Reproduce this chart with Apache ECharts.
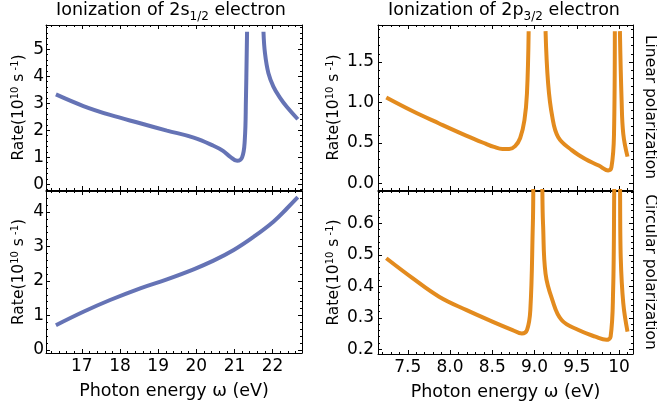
<!DOCTYPE html>
<html>
<head>
<meta charset="utf-8">
<script src="https://cdn.jsdelivr.net/npm/echarts@6/dist/echarts.min.js"></script>
<style>
html, body { margin: 0; padding: 0; background: #fff; }
#main { width: 657px; height: 407px; }
</style>
</head>
<body>
<div id="main"></div>
<script>
// 2s1/2, linear polarization
var sLinX = [16.32, 17.04, 17.74, 18.53, 19.23, 19.93, 20.45, 20.7, 20.89, 21.07, 21.2, 21.27, 21.3, 21.33, 21.55, 21.76, 21.8, 21.89, 22.02, 22.2, 22.37, 22.66];
var sLinY = [3.33, 2.9, 2.57, 2.26, 1.99, 1.73, 1.43, 1.24, 1.02, 0.87, 1.0, 1.64, 3.12, 5.65, null, 5.65, 4.85, 4.11, 3.62, 3.19, 2.87, 2.41];
// 2s1/2, circular polarization
var sCirX = [16.32, 17.04, 17.74, 18.53, 19.23, 19.93, 20.45, 20.98, 21.5, 22.02, 22.38, 22.66];
var sCirY = [0.72, 1.11, 1.45, 1.79, 2.05, 2.34, 2.59, 2.9, 3.28, 3.72, 4.11, 4.43];
// 2p3/2, linear polarization
var pLinX = [7.245, 7.56, 7.87, 8.19, 8.42, 8.52, 8.62, 8.7, 8.77, 8.83, 8.88, 8.91, 8.93, 9.03, 9.13, 9.16, 9.21, 9.28, 9.44, 9.6, 9.76, 9.87, 9.91, 9.94, 9.95, 9.98, 10.01, 10.03, 10.05, 10.1];
var pLinY = [1.06, 0.89, 0.74, 0.59, 0.49, 0.45, 0.425, 0.425, 0.46, 0.56, 0.78, 1.11, 1.88, null, 1.88, 1.24, 0.82, 0.57, 0.41, 0.3, 0.22, 0.16, 0.2, 0.6, 1.88, null, 1.88, 1.03, 0.61, 0.33];
// 2p3/2, circular polarization
var pCirX = [7.245, 7.56, 7.87, 8.19, 8.5, 8.74, 8.85, 8.91, 8.95, 8.98, 9.0, 9.07, 9.1, 9.13, 9.21, 9.32, 9.52, 9.72, 9.85, 9.9, 9.93, 9.96, 10.0, 10.02, 10.05, 10.1];
var pCirY = [0.489, 0.425, 0.367, 0.325, 0.288, 0.261, 0.25, 0.261, 0.325, 0.6, 0.8, 0.8, 0.6, 0.44, 0.357, 0.293, 0.261, 0.24, 0.23, 0.24, 0.39, 0.8, 0.8, 0.49, 0.346, 0.256];

// tick positions
var sXTicks = [17, 18, 19, 20, 21, 22];
var pXTicks = [7.5, 8.0, 8.5, 9.0, 9.5, 10];
var sLinYTicks = [0, 1, 2, 3, 4, 5];
var sCirYTicks = [0, 1, 2, 3, 4];
var pLinYTicks = [0, 0.5, 1.0, 1.5];
var pCirYTicks = [0.2, 0.3, 0.4, 0.5, 0.6];

var blue = '#6573b5';
var orange = '#e38b1e';
var font = 'DejaVu Sans';

function zip(xs, ys){
	var out = [];
	for(var i = 0; i < xs.length; i++){
		out.push([xs[i], ys[i]]);
	}
	return out;
}
// minor tick positions between from and to, skipping majors
function minors(from, to, step, majors){
	var out = [];
	var n = Math.round((to - from) / step);
	for(var i = 0; i <= n; i++){
		var v = Math.round((from + i * step) * 1000) / 1000;
		var isMajor = false;
		for(var j = 0; j < majors.length; j++){
			if(Math.abs(majors[j] - v) < 1e-6) isMajor = true;
		}
		if(!isMajor) out.push(v);
	}
	return out;
}

var frameLine = {show: true, onZero: false, lineStyle: {color: '#000', width: 1}};
function tickAxis(pos, gi, min, max, vals, len, line){
	return {
		type: 'value', gridIndex: gi, position: pos, min: min, max: max,
		axisLine: line ? frameLine : {show: false, onZero: false},
		axisTick: {show: true, inside: true, length: len, customValues: vals, lineStyle: {color: '#000', width: 1}},
		axisLabel: {show: false},
		splitLine: {show: false}
	};
}

var grids = [];
var xAxes = [];
var yAxes = [];
var series = [];

function panel(p){
	var gi = grids.length;
	grids.push({left: p.left, top: p.top, width: p.width, height: p.height});
	var xMain = tickAxis('bottom', gi, p.xMin, p.xMax, p.xTicks, 4, true);
	if(p.xLabels){
		xMain.axisLabel = {show: true, customValues: p.xTicks, margin: 5, color: '#000', fontFamily: font, fontSize: 17, formatter: p.xFmt};
		xMain.name = 'Photon energy ω (eV)';
		xMain.nameLocation = 'middle';
		xMain.nameGap = 29;
		xMain.nameTextStyle = {color: '#000', fontFamily: font, fontSize: 17.5};
	}
	var xi = xAxes.length;
	xAxes.push(xMain);
	xAxes.push(tickAxis('bottom', gi, p.xMin, p.xMax, p.xMinor, 2, false));
	xAxes.push(tickAxis('top', gi, p.xMin, p.xMax, p.xTicks, 4, true));
	xAxes.push(tickAxis('top', gi, p.xMin, p.xMax, p.xMinor, 2, false));

	var yMain = tickAxis('left', gi, p.yMin, p.yMax, p.yTicks, 4, true);
	yMain.axisLabel = {show: true, customValues: p.yTicks, margin: p.yMargin, color: '#000', fontFamily: font, fontSize: 17, formatter: p.yFmt};
	yMain.name = '{n|Rate(10}{sup|10}{n| s}{sup| -1}{n|)}';
	yMain.nameLocation = 'middle';
	yMain.nameGap = p.nameGap;
	yMain.nameTextStyle = {
		color: '#000', fontFamily: font, fontSize: 15.5,
		rich: {
			n: {fontFamily: font, fontSize: 15.5, color: '#000', verticalAlign: 'bottom'},
			sup: {fontFamily: font, fontSize: 10, color: '#000', verticalAlign: 'bottom', padding: [0, 0, 7, 0]}
		}
	};
	var yi = yAxes.length;
	yAxes.push(yMain);
	yAxes.push(tickAxis('left', gi, p.yMin, p.yMax, p.yMinor, 2, false));
	yAxes.push(tickAxis('right', gi, p.yMin, p.yMax, p.yTicks, 4, true));
	yAxes.push(tickAxis('right', gi, p.yMin, p.yMax, p.yMinor, 2, false));

	series.push({
		type: 'line', xAxisIndex: xi, yAxisIndex: yi,
		data: p.data, showSymbol: false, smooth: 0.4,
		connectNulls: false, clip: true,
		lineStyle: {color: p.color, width: 4}, itemStyle: {color: p.color},
		animation: false
	});
}

function fmt1(v){ return v.toFixed(1); }
function fmtX(v){ return v === 10 ? '10' : v.toFixed(1); }
function fmt0(v){ return String(v); }

panel({left: 46, top: 25, width: 256, height: 165, xMin: 16.06, xMax: 22.77, xTicks: sXTicks,
	xMinor: minors(16.2, 22.6, 0.2, sXTicks), xLabels: false,
	yMin: -0.21, yMax: 5.9, yTicks: sLinYTicks, yMinor: minors(-0.2, 5.8, 0.2, sLinYTicks),
	yFmt: fmt0, yMargin: 2, nameGap: 19, data: zip(sLinX, sLinY), color: blue});
panel({left: 46, top: 191, width: 256, height: 162, xMin: 16.06, xMax: 22.77, xTicks: sXTicks,
	xMinor: minors(16.2, 22.6, 0.2, sXTicks), xLabels: true, xFmt: fmt0,
	yMin: -0.087, yMax: 4.61, yTicks: sCirYTicks, yMinor: minors(0, 4.6, 0.2, sCirYTicks),
	yFmt: fmt0, yMargin: 2, nameGap: 19, data: zip(sCirX, sCirY), color: blue});
panel({left: 378, top: 25, width: 255, height: 165, xMin: 7.147, xMax: 10.165, xTicks: pXTicks,
	xMinor: minors(7.2, 10.1, 0.1, pXTicks), xLabels: false,
	yMin: -0.082, yMax: 1.956, yTicks: pLinYTicks, yMinor: minors(0, 1.9, 0.1, pLinYTicks),
	yFmt: fmt1, yMargin: 4, nameGap: 36, data: zip(pLinX, pLinY), color: orange});
panel({left: 378, top: 191, width: 255, height: 163, xMin: 7.147, xMax: 10.165, xTicks: pXTicks,
	xMinor: minors(7.2, 10.1, 0.1, pXTicks), xLabels: true, xFmt: fmtX,
	yMin: 0.185, yMax: 0.7025, yTicks: pCirYTicks, yMinor: minors(0.2, 0.7, 0.02, pCirYTicks),
	yFmt: fmt1, yMargin: 4, nameGap: 36, data: zip(pCirX, pCirY), color: orange});

var titleRich = {
	n: {fontFamily: font, fontSize: 17.5, fill: '#000', verticalAlign: 'bottom', padding: [0, 0, 4, 0]},
	sub: {fontFamily: font, fontSize: 12, fill: '#000', verticalAlign: 'bottom'}
};

var chart = echarts.init(document.getElementById('main'));
chart.setOption({
	animation: false,
	backgroundColor: '#fff',
	grid: grids,
	xAxis: xAxes,
	yAxis: yAxes,
	series: series,
	graphic: [
		{type: 'text', x: 171, y: 12, style: {text: '{n|Ionization of 2s}{sub|1/2}{n| electron}', rich: titleRich, align: 'center', verticalAlign: 'middle', fill: '#000'}},
		{type: 'text', x: 504, y: 12, style: {text: '{n|Ionization of 2p}{sub|3/2}{n| electron}', rich: titleRich, align: 'center', verticalAlign: 'middle', fill: '#000'}},
		{type: 'text', x: 650, y: 107, rotation: -Math.PI / 2, style: {text: 'Linear polarization', font: '15.5px "DejaVu Sans"', align: 'center', verticalAlign: 'middle', fill: '#000'}},
		{type: 'text', x: 650, y: 272, rotation: -Math.PI / 2, style: {text: 'Circular polarization', font: '15.5px "DejaVu Sans"', align: 'center', verticalAlign: 'middle', fill: '#000'}}
	]
});
</script>
</body>
</html>
